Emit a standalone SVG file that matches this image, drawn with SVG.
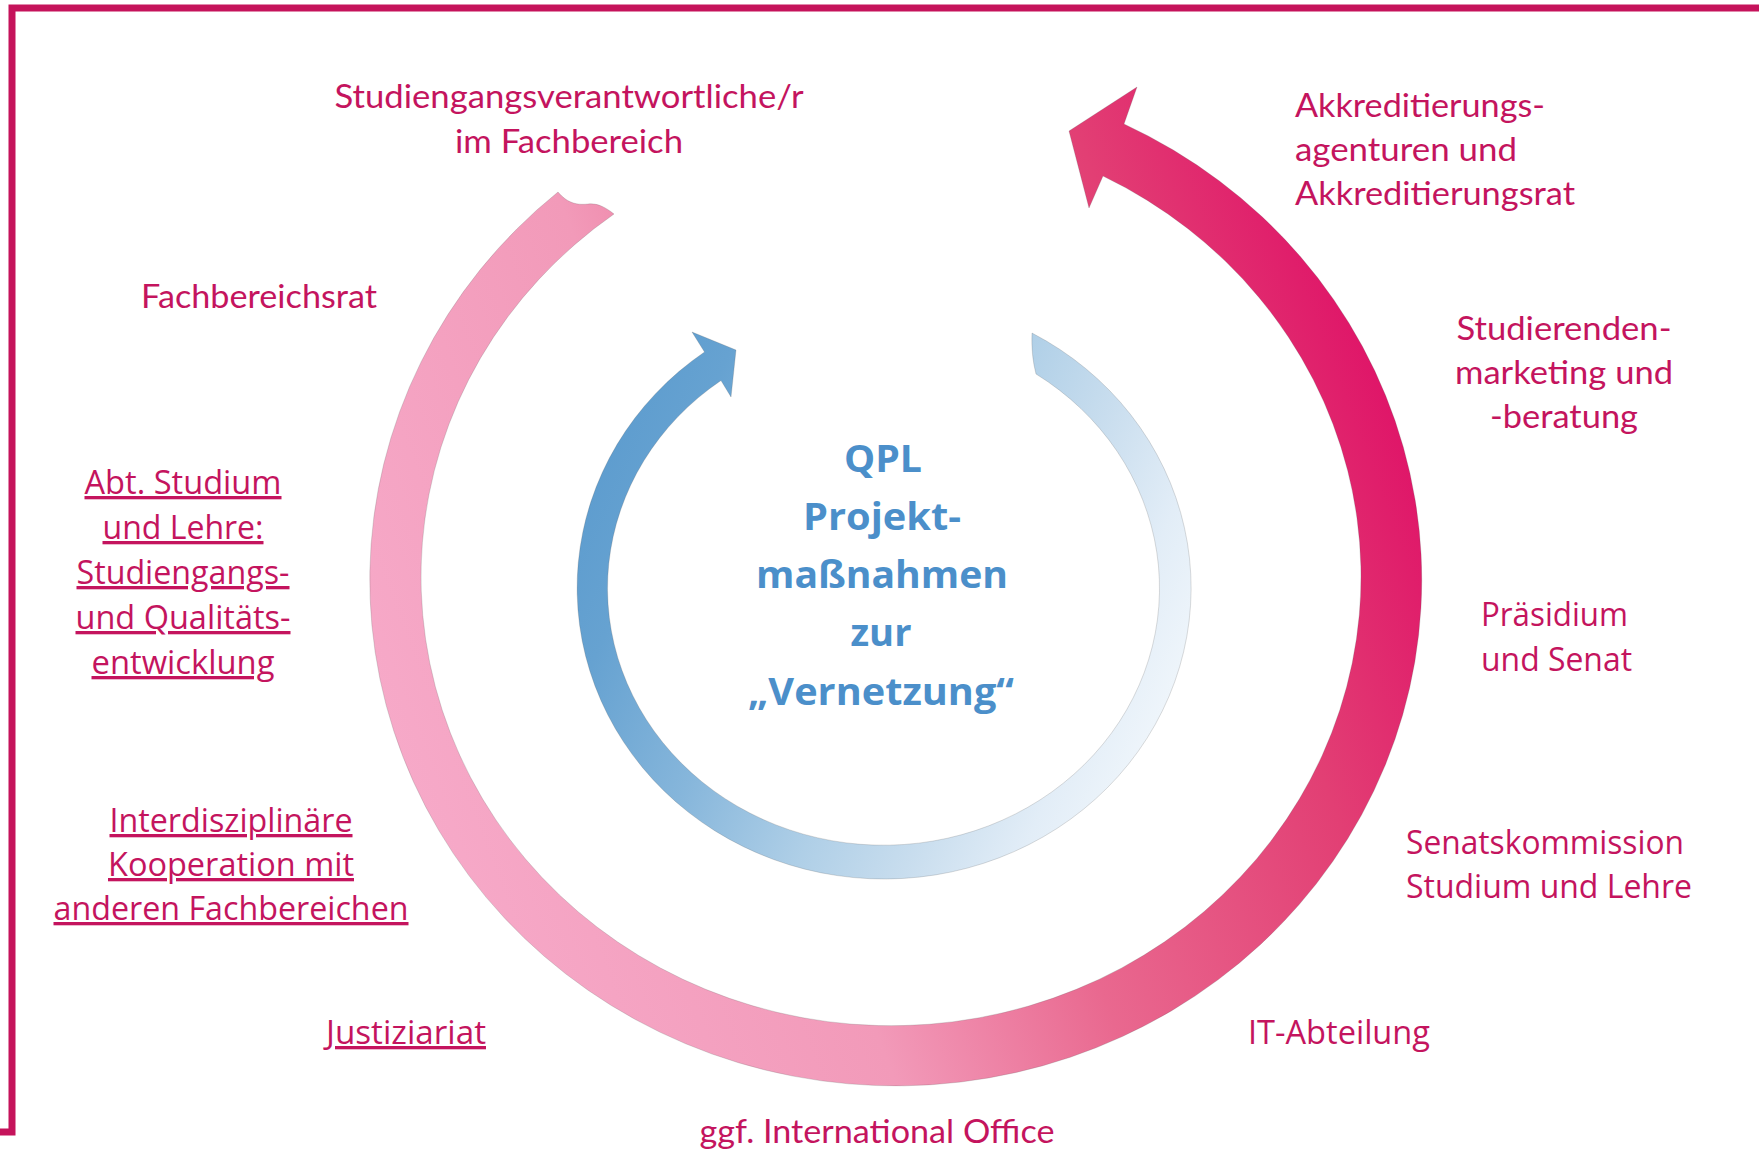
<svg xmlns="http://www.w3.org/2000/svg" width="1759" height="1152" viewBox="0 0 1759 1152">
<defs>
<linearGradient id="gPink" gradientUnits="userSpaceOnUse" x1="367" y1="800" x2="1419" y2="400">
<stop offset="0" stop-color="#F7ABCA"/>
<stop offset="0.35" stop-color="#F29AB9"/>
<stop offset="0.55" stop-color="#E9688F"/>
<stop offset="0.8" stop-color="#E23F74"/>
<stop offset="1" stop-color="#DF1067"/>
</linearGradient>
<linearGradient id="gBlue" gradientUnits="userSpaceOnUse" x1="576" y1="450" x2="1191" y2="720">
<stop offset="0" stop-color="#5B9BCE"/>
<stop offset="0.15" stop-color="#66A2D1"/>
<stop offset="0.35" stop-color="#86B6DB"/>
<stop offset="0.55" stop-color="#AFCFE7"/>
<stop offset="0.7" stop-color="#C8DDEE"/>
<stop offset="0.85" stop-color="#E2EDF7"/>
<stop offset="1" stop-color="#F3F8FC"/>
</linearGradient>
<style>
.lbl { fill:#C4145E; font-family: Lato, 'Liberation Sans', sans-serif; font-size:32px; }
.wide { fill:#C4145E; font-family: 'Open Sans', 'Liberation Sans', sans-serif; font-size:33px; }
.u { text-decoration: underline; }
.mid { text-anchor: middle; }
.ctr { fill:#4B8FCA; font-family: 'Open Sans', 'Liberation Sans', sans-serif; font-weight:700; font-size:38px; text-anchor:middle; }
.arrow { stroke:#555555; stroke-opacity:0.3; stroke-width:0.7; }
</style>
</defs>
<rect width="1759" height="1152" fill="#ffffff"/>
<path id="frame" d="M0 1132 H12 V8 H1759" fill="none" stroke="#C5135B" stroke-width="7"/>

<g id="connectors">
<path id="arrow-outer" class="arrow" fill="url(#gPink)" d="M558 192 A526 506 0 1 0 1124 124 L1137 87 L1069 131 L1089 208 L1103 176 A470 449 0 1 1 614 214 C604 206 596 203 588 204 C578 205 568 204 558 192 Z"/>
<path id="arrow-inner" class="arrow" fill="url(#gBlue)" d="M1032 333 A307 291 0 1 1 704.5 352 L692 332 L736 350 L731 397 L721 380.5 A276 257 0 1 0 1036 374 Q1031 355 1032 333 Z"/>
</g>

<g id="node-center">
<text class="ctr" x="883" y="472" textLength="78" lengthAdjust="spacingAndGlyphs">QPL</text>
<text class="ctr" x="882" y="530" textLength="158" lengthAdjust="spacingAndGlyphs">Projekt-</text>
<text class="ctr" x="882" y="588" textLength="252" lengthAdjust="spacingAndGlyphs">maßnahmen</text>
<text class="ctr" x="881" y="646" textLength="61" lengthAdjust="spacingAndGlyphs">zur</text>
<text class="ctr" x="881" y="705" textLength="266" lengthAdjust="spacingAndGlyphs">„Vernetzung“</text>
</g>

<g id="node-studiengangsverantwortliche">
<text class="lbl mid" x="569" y="108" textLength="469" lengthAdjust="spacingAndGlyphs">Studiengangsverantwortliche/r</text>
<text class="lbl mid" x="569" y="153" textLength="228" lengthAdjust="spacingAndGlyphs">im Fachbereich</text>
</g>

<g id="node-fachbereichsrat">
<text class="lbl" x="141" y="308" textLength="236" lengthAdjust="spacingAndGlyphs">Fachbereichsrat</text>
</g>

<g id="node-abt-studium">
<text class="wide mid u" x="183" y="494" textLength="197" lengthAdjust="spacingAndGlyphs">Abt. Studium</text>
<text class="wide mid u" x="183" y="539" textLength="161" lengthAdjust="spacingAndGlyphs">und Lehre:</text>
<text class="wide mid u" x="183" y="584" textLength="213" lengthAdjust="spacingAndGlyphs">Studiengangs-</text>
<text class="wide mid u" x="183" y="629" textLength="215" lengthAdjust="spacingAndGlyphs">und Qualitäts-</text>
<text class="wide mid u" x="183" y="674" textLength="183" lengthAdjust="spacingAndGlyphs">entwicklung</text>
</g>

<g id="node-interdisziplinaer">
<text class="wide mid u" x="231" y="832" textLength="243" lengthAdjust="spacingAndGlyphs">Interdisziplinäre</text>
<text class="wide mid u" x="231" y="876" textLength="246" lengthAdjust="spacingAndGlyphs">Kooperation mit</text>
<text class="wide mid u" x="231" y="920" textLength="355" lengthAdjust="spacingAndGlyphs">anderen Fachbereichen</text>
</g>

<g id="node-justiziariat">
<text class="wide u" x="326" y="1044" textLength="160" lengthAdjust="spacingAndGlyphs">Justiziariat</text>
</g>

<g id="node-international-office">
<text class="lbl mid" x="877" y="1143" textLength="355" lengthAdjust="spacingAndGlyphs">ggf. International Office</text>
</g>

<g id="node-it-abteilung">
<text class="wide" x="1248" y="1044" textLength="182" lengthAdjust="spacingAndGlyphs">IT-Abteilung</text>
</g>

<g id="node-senatskommission">
<text class="wide" x="1406" y="854" textLength="278" lengthAdjust="spacingAndGlyphs">Senatskommission</text>
<text class="wide" x="1406" y="898" textLength="286" lengthAdjust="spacingAndGlyphs">Studium und Lehre</text>
</g>

<g id="node-praesidium">
<text class="wide" x="1481" y="626" textLength="147" lengthAdjust="spacingAndGlyphs">Präsidium</text>
<text class="wide" x="1481" y="671" textLength="151" lengthAdjust="spacingAndGlyphs">und Senat</text>
</g>

<g id="node-studierendenmarketing">
<text class="lbl mid" x="1564" y="340" textLength="215" lengthAdjust="spacingAndGlyphs">Studierenden-</text>
<text class="lbl mid" x="1564" y="384" textLength="218" lengthAdjust="spacingAndGlyphs">marketing und</text>
<text class="lbl mid" x="1564" y="428" textLength="148" lengthAdjust="spacingAndGlyphs">-beratung</text>
</g>

<g id="node-akkreditierung">
<text class="lbl" x="1295" y="117" textLength="250" lengthAdjust="spacingAndGlyphs">Akkreditierungs-</text>
<text class="lbl" x="1295" y="161" textLength="222" lengthAdjust="spacingAndGlyphs">agenturen und</text>
<text class="lbl" x="1295" y="205" textLength="280" lengthAdjust="spacingAndGlyphs">Akkreditierungsrat</text>
</g>
</svg>
